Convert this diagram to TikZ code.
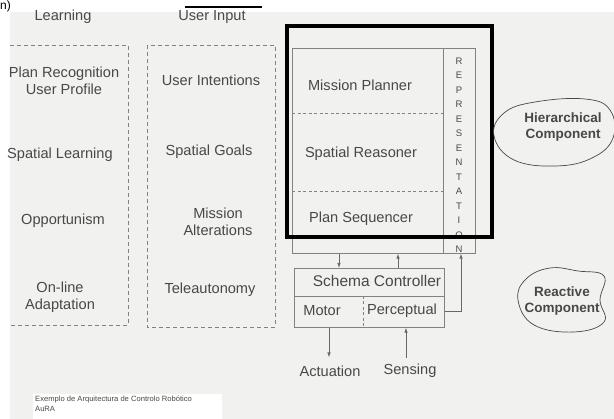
\documentclass[tikz,border=0pt]{standalone}
\usepackage{fontspec}
\setmainfont{Liberation Sans}
\usetikzlibrary{arrows.meta}
\definecolor{ink}{RGB}{72,72,72}
\definecolor{paper}{RGB}{241,241,240}
\definecolor{rule}{RGB}{130,130,130}
\begin{document}
\begin{tikzpicture}[x=1pt,y=-1pt,
  lbl/.style={font=\fontsize{14.6}{17}\selectfont, text=ink, align=center, inner sep=0pt},
  blbl/.style={lbl, font=\bfseries\fontsize{13.5}{16}\selectfont},
  letter/.style={font=\fontsize{9.5}{10}\selectfont, text=ink, inner sep=0pt},
  dbox/.style={draw=rule, line width=0.7pt, dash pattern=on 4pt off 3pt},
  rect/.style={draw=rule, line width=0.7pt, inner sep=0pt, anchor=north west},
  divider/.style={draw=rule, line width=0.6pt, dash pattern=on 3pt off 2.5pt},
  frame/.style={draw=black, line width=3.5pt},
  arr/.style={draw=rule!80!black, line width=0.7pt, -{Latex[length=5pt,width=3.5pt]}},
  blob/.style={draw=ink, line width=0.7pt}]

\useasboundingbox (0,0) rectangle (614,419);

% scanned page area and caption strip
\fill[paper] (10,12) rectangle (614,419);
\fill[white] (33,394) rectangle (222,419);

% panel letter
\node[anchor=north west, font=\fontsize{12}{13}\selectfont, inner sep=0pt] (tag) at (0,0.5) {n)};

% column titles
\coordinate (ul) at (185,7);
\coordinate (ur) at (262,7);
\draw[line width=1.4pt] (ul) -- (ur);
\node[lbl] (learning) at (63,17) {Learning};
\node[lbl] (userinput) at (212,17) {User Input};

% learning column
\draw[dbox] (10,45) -- (128,45) -- (128,325) -- (10,325);
\node[lbl] (planrec) at (64,81) {Plan Recognition\\User Profile};
\node[lbl] (spatlearn) at (60,155) {Spatial Learning};
\node[lbl] (opport) at (63,221) {Opportunism};
\node[lbl] (online) at (60,297) {On-line\\Adaptation};

% user input column
\draw[dbox] (147,45) rectangle (275,327);
\node[lbl] (intent) at (211,80) {User Intentions};
\node[lbl] (goals) at (209,152) {Spatial Goals};
\node[lbl] (alter) at (218,222) {Mission\\Alterations};
\node[lbl] (teleauto) at (210,290) {Teleautonomy};

% hierarchical layers and representation column
\node[rect, minimum width=151pt, minimum height=205pt] (layers) at (292,48) {};
\node[rect, minimum width=32pt, minimum height=205pt] (repr) at (443,48) {};
\draw[divider] (292,113) -- (443,113);
\draw[divider] (292,191) -- (443,191);
\node[lbl] (planner) at (360,85) {Mission Planner};
\node[lbl] (reasoner) at (361,154) {Spatial Reasoner};
\node[lbl] (sequencer) at (361,219) {Plan Sequencer};
\foreach \c [count=\i from 0] in {R,E,P,R,E,S,E,N,T,A,T,I,O,N}
  \node[letter] (rep\i) at (459,{61+14.5*\i}) {\c};

% highlighted frame
\draw[frame] (287,26) rectangle (492,237);

% reactive layer
\node[rect, minimum width=150pt, minimum height=59pt] (schema) at (294,268) {};
\draw[draw=rule, line width=0.6pt] (294,296) -- (444,296);
\draw[divider] (363,296) -- (363,327);
\node[lbl, font=\fontsize{15.5}{17}\selectfont] (schemactl) at (377,281) {Schema Controller};
\node[lbl] (motor) at (322,311) {Motor};
\node[lbl] (percept) at (402,311) {Perceptual};

% connectors between the layers
\coordinate (xa) at (339,0);
\coordinate (xb) at (398,0);
\coordinate (xc) at (461,0);
\draw[arr] (layers.south -| xa) -- (schema.north -| xa);
\draw[arr] (schema.north -| xb) -- (layers.south -| xb);
\draw[arr] (schema.east |- percept) -| (repr.south -| xc);

% actuation and sensing
\node[lbl] (actuation) at (330,371) {Actuation};
\node[lbl] (sensing) at (410,371) {Sensing};
\coordinate (xm) at (329,0);
\coordinate (xs) at (406,0);
\draw[arr] (schema.south -| xm) -- ([yshift=8pt]actuation.north -| xm);
\draw[arr] ([yshift=6pt]sensing.north -| xs) -- (schema.south -| xs);

% hand-drawn component outlines
\draw[blob] plot[smooth cycle, tension=0.7] coordinates
  {(494,136) (504,113) (535,102) (585,99) (610,110) (613,138) (592,158) (556,166) (514,160)};
\node[blbl] (hier) at (563,127) {Hierarchical\\Component};
\draw[blob] plot[smooth cycle, tension=0.7] coordinates
  {(518,300) (526,279) (550,268) (578,271) (604,276) (600,300) (604,322) (574,332) (534,325)};
\node[blbl] (react) at (562,301) {Reactive\\Component};

% caption
\node[anchor=north west, align=left, text=ink, inner sep=0pt,
      font=\fontsize{7.6}{9.5}\selectfont] (caption) at (35,396)
  {Exemplo de Arquitectura de Controlo Robótico\\AuRA};
\end{tikzpicture}
\end{document}
